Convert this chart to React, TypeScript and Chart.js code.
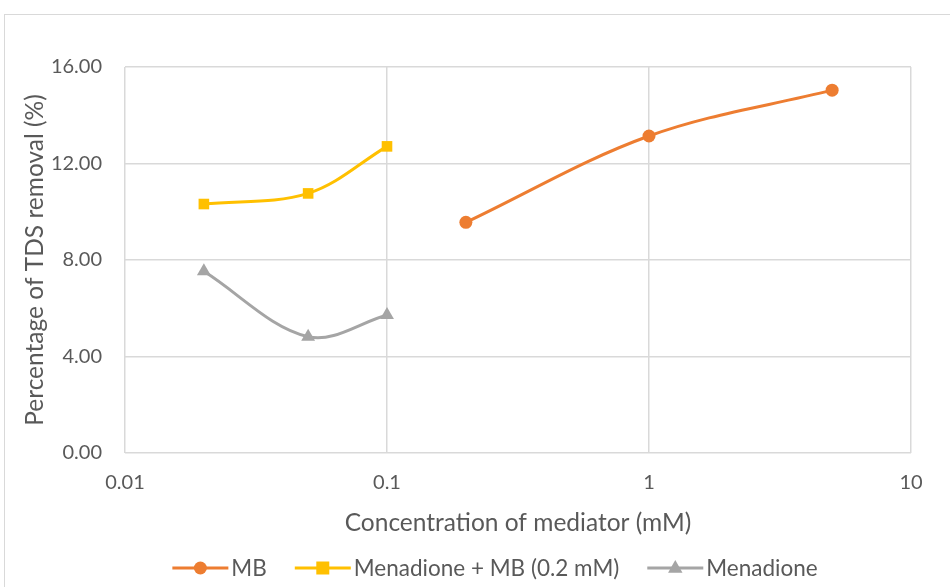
import { useEffect, useRef } from "react";
import { Chart, registerables } from "chart.js";

Chart.register(...registerables);

// Concentration (mM) and TDS removal (%) for each mediator series
const concMB = [0.2, 1, 5];
const removalMB = [9.56, 13.14, 15.04];
const concMenMB = [0.02, 0.05, 0.1];
const removalMenMB = [10.32, 10.76, 12.71];
const concMen = [0.02, 0.05, 0.1];
const removalMen = [7.53, 4.82, 5.72];

const seriesNames = ["MB", "Menadione + MB (0.2 mM)", "Menadione"];
const seriesColors = ["#ED7D31", "#FFC000", "#A5A5A5"];
const seriesMarkers = ["circle", "rect", "triangle"];

const xTickValues = [0.01, 0.1, 1, 10];
const yTickValues = [0, 4, 8, 12, 16];
const xTitle = "Concentration of mediator (mM)";
const yTitle = "Percentage of TDS removal (%)";

const FONT = "Lato, 'Open Sans', sans-serif";
const TEXT = "#595959";
const GRID = "#D9D9D9";
const TITLE_SIZE = 24.5;
const LEGEND_SIZE = 22.5;

const toPoints = (xs: number[], ys: number[]) => xs.map((x, i) => ({ x, y: ys[i] }));

function drawMarker(ctx: CanvasRenderingContext2D, kind: string, x: number, y: number, color: string) {
  ctx.save();
  ctx.fillStyle = color;
  ctx.beginPath();
  if (kind === "circle") {
    ctx.arc(x, y, 6.5, 0, Math.PI * 2);
  } else if (kind === "rect") {
    ctx.rect(x - 6.5, y - 6.5, 13, 13);
  } else {
    const r = 8;
    ctx.moveTo(x, y - r);
    ctx.lineTo(x + r * 0.9, y + r * 0.6);
    ctx.lineTo(x - r * 0.9, y + r * 0.6);
    ctx.closePath();
  }
  ctx.fill();
  ctx.restore();
}

// Legend drawn as line + marker samples, centred below the axis title
const lineLegend = {
  id: "lineLegend",
  afterDraw(chart: any) {
    const ctx: CanvasRenderingContext2D = chart.ctx;
    ctx.save();
    ctx.font = `${LEGEND_SIZE}px ${FONT}`;
    ctx.textBaseline = "middle";
    const lineLen = 56;
    const textGap = 3;
    const itemGap = 28;
    const widths = seriesNames.map((n) => lineLen + textGap + ctx.measureText(n).width);
    const total = widths.reduce((a, b) => a + b, 0) + itemGap * (seriesNames.length - 1);
    let x = 495 - total / 2;
    const y = 568;
    seriesNames.forEach((name, i) => {
      ctx.strokeStyle = seriesColors[i];
      ctx.lineWidth = 3;
      ctx.beginPath();
      ctx.moveTo(x, y);
      ctx.lineTo(x + lineLen, y);
      ctx.stroke();
      drawMarker(ctx, seriesMarkers[i], x + lineLen / 2, y, seriesColors[i]);
      ctx.fillStyle = TEXT;
      ctx.textAlign = "left";
      ctx.fillText(name, x + lineLen + textGap, y + 1);
      x += widths[i] + itemGap;
    });
    ctx.restore();
  },
};

export default function App() {
  const canvasRef = useRef<HTMLCanvasElement | null>(null);

  useEffect(() => {
    document.body.style.margin = "0";
    const canvas = canvasRef.current;
    if (!canvas) return;

    const makeSet = (i: number, xs: number[], ys: number[]) => ({
      label: seriesNames[i],
      data: toPoints(xs, ys),
      borderColor: seriesColors[i],
      backgroundColor: seriesColors[i],
      borderWidth: 3,
      pointStyle: seriesMarkers[i],
      pointRadius: i === 0 ? 6.5 : i === 1 ? 7.5 : 8,
      pointBorderWidth: 0,
      tension: 0.35,
      cubicInterpolationMode: "default" as const,
    });

    const titleHalf = (TITLE_SIZE * 1.2) / 2;

    const chart = new Chart(canvas, {
      type: "line",
      data: {
        datasets: [
          makeSet(0, concMB, removalMB),
          makeSet(1, concMenMB, removalMenMB),
          makeSet(2, concMen, removalMen),
        ],
      },
      plugins: [lineLegend],
      options: {
        animation: false,
        responsive: false,
        layout: { padding: { left: 0, top: 67, right: 39, bottom: 587 - (523 + titleHalf + 4) } },
        plugins: {
          legend: { display: false },
          tooltip: { enabled: false },
        },
        scales: {
          x: {
            type: "logarithmic",
            min: 0.01,
            max: 10,
            afterBuildTicks: (scale: any) => {
              scale.ticks = xTickValues.map((v) => ({ value: v }));
            },
            afterFit: (scale: any) => {
              scale.height = 523 + titleHalf + 4 - 453;
            },
            ticks: {
              autoSkip: false,
              maxRotation: 0,
              padding: 18,
              color: TEXT,
              font: { family: FONT, size: 20 },
              callback: (v: any) => String(Number(v)),
            },
            grid: { color: GRID, lineWidth: 1.5, drawTicks: false },
            border: { display: false },
            title: {
              display: true,
              text: xTitle,
              color: TEXT,
              font: { family: FONT, size: TITLE_SIZE },
              padding: { top: 4, bottom: 4 },
            },
          },
          y: {
            min: 0,
            max: 16,
            afterBuildTicks: (scale: any) => {
              scale.ticks = yTickValues.map((v) => ({ value: v }));
            },
            afterFit: (scale: any) => {
              scale.width = 125;
            },
            ticks: {
              padding: 23,
              color: TEXT,
              font: { family: FONT, size: 20 },
              callback: (v: any) => Number(v).toFixed(2),
            },
            grid: { color: GRID, lineWidth: 1.5, drawTicks: false },
            border: { display: false },
            title: {
              display: true,
              text: yTitle,
              color: TEXT,
              font: { family: FONT, size: TITLE_SIZE },
              padding: { top: 35 - titleHalf, bottom: 4 },
            },
          },
        },
      },
    });

    return () => chart.destroy();
  }, []);

  return (
    <div
      style={{
        position: "fixed",
        left: 0,
        top: 0,
        width: 950,
        height: 587,
        overflow: "hidden",
        background: "#fff",
      }}
    >
      <div
        style={{
          position: "absolute",
          left: 4,
          top: 14,
          width: 980,
          height: 620,
          border: "1.5px solid #D9D9D9",
        }}
      />
      <canvas ref={canvasRef} width={950} height={587} style={{ position: "absolute", left: 0, top: 0 }} />
    </div>
  );
}
